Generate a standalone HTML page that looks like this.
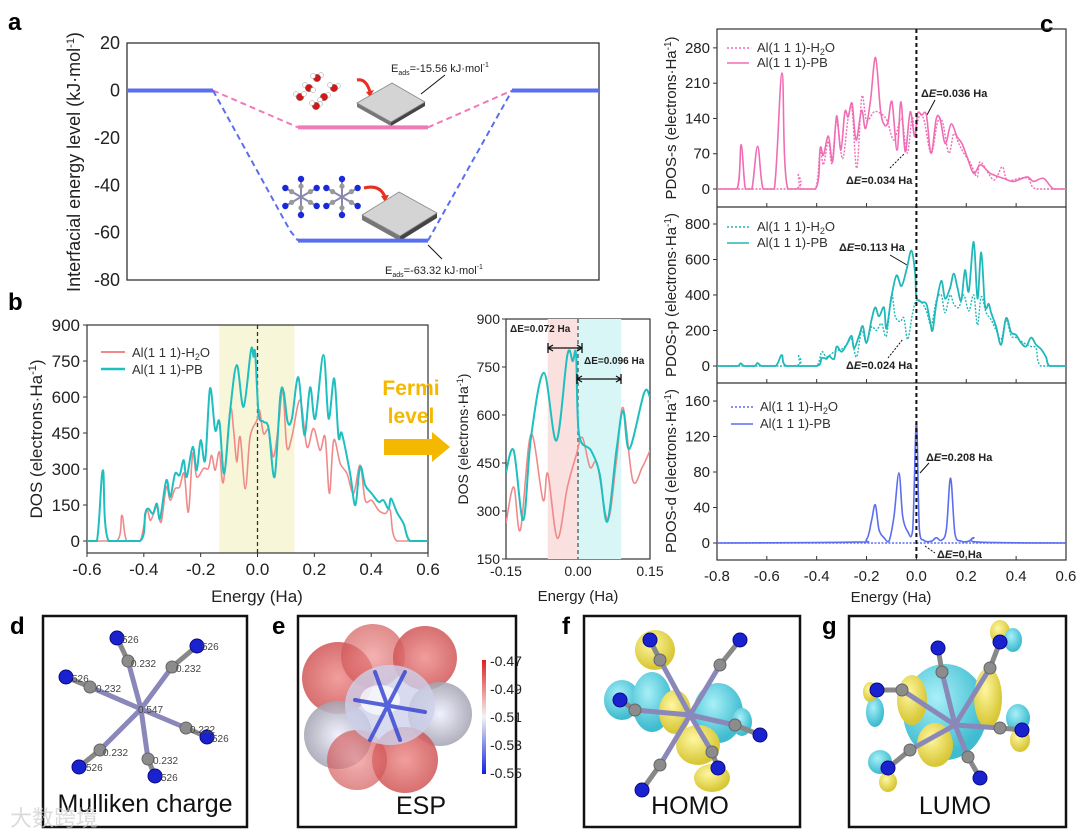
<!DOCTYPE html>
<html><head><meta charset="utf-8"><title>Figure</title>
<style>
html,body{margin:0;padding:0;background:#fff;}
svg{display:block;font-family:"Liberation Sans",Arial,sans-serif;}
</style></head>
<body>
<svg id="fig" width="1080" height="832" viewBox="0 0 1080 832" xmlns="http://www.w3.org/2000/svg">
<defs>
  <clipPath id="clipInset"><rect x="506" y="319" width="144" height="240"/></clipPath>
  <linearGradient id="espBar" x1="0" y1="0" x2="0" y2="1">
    <stop offset="0" stop-color="#e02020"/><stop offset="0.5" stop-color="#f4f4f4"/><stop offset="1" stop-color="#1020e0"/>
  </linearGradient>
  <radialGradient id="redLobe" cx="0.5" cy="0.5" r="0.5">
    <stop offset="0" stop-color="#e88" stop-opacity="0.9"/><stop offset="1" stop-color="#c44" stop-opacity="0.85"/>
  </radialGradient>
  <radialGradient id="blueLobe" cx="0.5" cy="0.5" r="0.5">
    <stop offset="0" stop-color="#eef" stop-opacity="0.9"/><stop offset="1" stop-color="#99a" stop-opacity="0.85"/>
  </radialGradient>
  <radialGradient id="yel" cx="0.4" cy="0.35" r="0.6">
    <stop offset="0" stop-color="#fff7a0"/><stop offset="1" stop-color="#d8c838"/>
  </radialGradient>
  <radialGradient id="cya" cx="0.4" cy="0.35" r="0.6">
    <stop offset="0" stop-color="#a8f0f8"/><stop offset="1" stop-color="#40bcd0"/>
  </radialGradient>
</defs>

<text x="8" y="30" font-size="24" font-weight="bold">a</text>
<text x="8" y="310" font-size="24" font-weight="bold">b</text>
<text x="1040" y="32" font-size="24" font-weight="bold">c</text>
<text x="10" y="634" font-size="24" font-weight="bold">d</text>
<text x="272" y="634" font-size="24" font-weight="bold">e</text>
<text x="562" y="634" font-size="24" font-weight="bold">f</text>
<text x="822" y="634" font-size="24" font-weight="bold">g</text>

<g id="panelA">
  <rect x="127" y="43" width="472" height="237" fill="none" stroke="#333" stroke-width="1.3"/>
  <text transform="translate(80,162) rotate(-90)" text-anchor="middle" font-size="18" fill="#222">Interfacial energy level (kJ·mol<tspan dy="-6" font-size="11">-1</tspan><tspan dy="6">)</tspan></text>
  <g stroke="#999" stroke-width="0.5">
    <circle cx="321" cy="75" r="2.5" fill="#fff"/><circle cx="317" cy="78" r="3.8" fill="#d01818"/><circle cx="313" cy="76" r="2.5" fill="#fff"/>
    <circle cx="305" cy="85" r="2.5" fill="#fff"/><circle cx="309" cy="88" r="3.8" fill="#d01818"/><circle cx="313" cy="90" r="2.5" fill="#fff"/>
    <circle cx="338" cy="86" r="2.5" fill="#fff"/><circle cx="334" cy="88" r="3.8" fill="#d01818"/><circle cx="330" cy="85" r="2.5" fill="#fff"/>
    <circle cx="296" cy="94" r="2.5" fill="#fff"/><circle cx="300" cy="97" r="3.8" fill="#d01818"/><circle cx="304" cy="94" r="2.5" fill="#fff"/>
    <circle cx="328" cy="95" r="2.5" fill="#fff"/><circle cx="324" cy="97" r="3.8" fill="#d01818"/><circle cx="320" cy="100" r="2.5" fill="#fff"/>
    <circle cx="320" cy="104" r="2.5" fill="#fff"/><circle cx="316" cy="106" r="3.8" fill="#d01818"/><circle cx="312" cy="103" r="2.5" fill="#fff"/>
  </g>
  <path d="M357 80 Q366 78 370 92" fill="none" stroke="#e83020" stroke-width="3"/>
  <polygon points="366,92 374,90 370,97" fill="#e83020"/>
  <g>
    <polygon points="357,103 391,122 391,126 357,107" fill="#777"/>
    <polygon points="391,122 425,102 425,106 391,126" fill="#444"/>
    <polygon points="357,103 392,83 425,102 391,122" fill="#d4d4d4" stroke="#888" stroke-width="0.8"/>
  </g>
  <line x1="421" y1="94" x2="445" y2="75" stroke="#111" stroke-width="1"/>
  <text x="391" y="72" font-size="11" fill="#222">E<tspan font-size="7" dy="3">ads</tspan><tspan dy="-3">=-15.56 kJ·mol</tspan><tspan font-size="7" dy="-5">-1</tspan></text>
  <g id="pbMolsA"></g>
  <path d="M364 188 Q380 184 385 197" fill="none" stroke="#e83020" stroke-width="3"/>
  <polygon points="381,196 389,195 385,202" fill="#e83020"/>
  <g>
    <polygon points="362,215 400,236 400,241 362,220" fill="#777"/>
    <polygon points="400,236 437,213 437,218 400,241" fill="#444"/>
    <polygon points="362,215 399,192 437,213 400,236" fill="#d4d4d4" stroke="#888" stroke-width="0.8"/>
  </g>
  <line x1="428" y1="245" x2="442" y2="259" stroke="#111" stroke-width="1"/>
  <text x="385" y="274" font-size="11" fill="#222">E<tspan font-size="7" dy="3">ads</tspan><tspan dy="-3">=-63.32 kJ·mol</tspan><tspan font-size="7" dy="-5">-1</tspan></text>
</g>

<g id="panelB">
  <rect x="87" y="325" width="341" height="228" fill="none" stroke="#333" stroke-width="1.2"/>
  <text transform="translate(42,439) rotate(-90)" text-anchor="middle" font-size="17" fill="#222">DOS (electrons·Ha<tspan dy="-6" font-size="11">-1</tspan><tspan dy="6">)</tspan></text>
  <text x="257" y="602" text-anchor="middle" font-size="17" fill="#222">Energy (Ha)</text>
  <line x1="101" y1="352" x2="125" y2="352" stroke="#f08a8a" stroke-width="2"/>
  <text x="132" y="357" font-size="13" fill="#333">Al(1 1 1)-H<tspan font-size="9" dy="3">2</tspan><tspan dy="-3">O</tspan></text>
  <line x1="101" y1="369" x2="125" y2="369" stroke="#1fbfbf" stroke-width="2.5"/>
  <text x="132" y="374" font-size="13" fill="#333">Al(1 1 1)-PB</text>
  <rect x="506" y="319" width="144" height="240" fill="none" stroke="#333" stroke-width="1.2"/>
  <text transform="translate(468,439) rotate(-90)" text-anchor="middle" font-size="14" fill="#222">DOS (electrons·Ha<tspan dy="-5" font-size="9">-1</tspan><tspan dy="5">)</tspan></text>
  <text x="578" y="601" text-anchor="middle" font-size="15" fill="#222">Energy (Ha)</text>
  <text x="411" y="395" text-anchor="middle" font-size="21" font-weight="bold" fill="#f5b800">Fermi</text>
  <text x="411" y="423" text-anchor="middle" font-size="21" font-weight="bold" fill="#f5b800">level</text>
  <polygon points="384,439 432,439 432,432 450,447 432,462 432,455 384,455" fill="#f5b800"/>
</g>

<g id="panelC">
  <rect x="717" y="29" width="349" height="531" fill="none" stroke="#333" stroke-width="1.2"/>
  <line x1="717" y1="207" x2="1066" y2="207" stroke="#333" stroke-width="1.2"/>
  <line x1="717" y1="383" x2="1066" y2="383" stroke="#333" stroke-width="1.2"/>
  <text transform="translate(676,118) rotate(-90)" text-anchor="middle" font-size="15" fill="#222">PDOS-s (electrons·Ha<tspan dy="-5" font-size="10">-1</tspan><tspan dy="5">)</tspan></text>
  <text transform="translate(676,295) rotate(-90)" text-anchor="middle" font-size="15" fill="#222">PDOS-p (electrons·Ha<tspan dy="-5" font-size="10">-1</tspan><tspan dy="5">)</tspan></text>
  <text transform="translate(676,471) rotate(-90)" text-anchor="middle" font-size="15" fill="#222">PDOS-d (electrons·Ha<tspan dy="-5" font-size="10">-1</tspan><tspan dy="5">)</tspan></text>
  <text x="891" y="602" text-anchor="middle" font-size="15" fill="#222">Energy (Ha)</text>
  <g font-size="13" fill="#333">
    <line x1="727" y1="48" x2="749" y2="48" stroke="#f06cb4" stroke-width="1.6" stroke-dasharray="2,2"/>
    <text x="757" y="52">Al(1 1 1)-H<tspan font-size="9" dy="3">2</tspan><tspan dy="-3">O</tspan></text>
    <line x1="727" y1="63" x2="749" y2="63" stroke="#f06cb4" stroke-width="1.6"/>
    <text x="757" y="67">Al(1 1 1)-PB</text>
    <line x1="727" y1="227" x2="749" y2="227" stroke="#20b8b8" stroke-width="1.6" stroke-dasharray="2,2"/>
    <text x="757" y="231">Al(1 1 1)-H<tspan font-size="9" dy="3">2</tspan><tspan dy="-3">O</tspan></text>
    <line x1="727" y1="243" x2="749" y2="243" stroke="#20b8b8" stroke-width="1.6"/>
    <text x="757" y="247">Al(1 1 1)-PB</text>
    <line x1="731" y1="407" x2="753" y2="407" stroke="#5b6ef0" stroke-width="1.6" stroke-dasharray="2,2"/>
    <text x="760" y="411">Al(1 1 1)-H<tspan font-size="9" dy="3">2</tspan><tspan dy="-3">O</tspan></text>
    <line x1="731" y1="424" x2="753" y2="424" stroke="#5b6ef0" stroke-width="1.6"/>
    <text x="760" y="428">Al(1 1 1)-PB</text>
  </g>
  <g font-size="11" font-weight="bold" fill="#222">
    <text x="921" y="97">Δ<tspan font-style="italic">E</tspan>=0.036 Ha</text>
    <line x1="927" y1="115" x2="935" y2="100" stroke="#111"/>
    <text x="846" y="184">Δ<tspan font-style="italic">E</tspan>=0.034 Ha</text>
    <line x1="890" y1="168" x2="904" y2="154" stroke="#111" stroke-dasharray="2,1.5"/>
    <text x="839" y="251">Δ<tspan font-style="italic">E</tspan>=0.113 Ha</text>
    <line x1="890" y1="255" x2="907" y2="265" stroke="#111"/>
    <text x="846" y="369">Δ<tspan font-style="italic">E</tspan>=0.024 Ha</text>
    <line x1="888" y1="358" x2="903" y2="339" stroke="#111" stroke-dasharray="2,1.5"/>
    <text x="926" y="461">Δ<tspan font-style="italic">E</tspan>=0.208 Ha</text>
    <line x1="929" y1="463" x2="920" y2="473" stroke="#111"/>
    <text x="937" y="558">Δ<tspan font-style="italic">E</tspan>=0 Ha</text>
    <line x1="925" y1="546" x2="935" y2="553" stroke="#111" stroke-dasharray="2,1.5"/>
  </g>
</g>

<g id="panelD">
  <rect x="43" y="616" width="204" height="211" fill="#fff" stroke="#111" stroke-width="2.5"/>
  <g id="molD"></g>
  <text x="145" y="812" text-anchor="middle" font-size="25" fill="#111">Mulliken charge</text>
  <text x="10" y="826" font-size="22" fill="#ccc" opacity="0.7" font-family="'Liberation Sans','Noto Sans CJK SC',sans-serif">大数跨境</text>
</g>
<g id="panelE">
  <rect x="298" y="616" width="218" height="211" fill="#fff" stroke="#111" stroke-width="2.5"/>
  <g opacity="0.9">
    <circle cx="338" cy="678" r="36" fill="url(#redLobe)"/>
    <circle cx="373" cy="656" r="32" fill="url(#redLobe)" opacity="0.8"/>
    <circle cx="425" cy="658" r="32" fill="url(#redLobe)"/>
    <circle cx="338" cy="735" r="34" fill="url(#blueLobe)"/>
    <circle cx="440" cy="714" r="32" fill="url(#blueLobe)"/>
    <circle cx="405" cy="760" r="33" fill="url(#redLobe)"/>
    <circle cx="357" cy="760" r="30" fill="url(#redLobe)" opacity="0.8"/>
    <ellipse cx="390" cy="705" rx="45" ry="40" fill="#c8cce8" opacity="0.8"/>
    <ellipse cx="380" cy="700" rx="20" ry="15" fill="#fff" opacity="0.7"/>
  </g>
  <g stroke="#3040d0" stroke-width="4" stroke-linecap="round" opacity="0.8">
    <line x1="375" y1="672" x2="400" y2="740"/><line x1="355" y1="700" x2="425" y2="712"/><line x1="405" y1="672" x2="370" y2="740"/>
  </g>
  <rect x="482" y="660" width="4" height="114" fill="url(#espBar)"/>
  <g font-size="14" fill="#222">
    <text x="490" y="666">-0.47</text>
    <text x="490" y="694">-0.49</text>
    <text x="490" y="722">-0.51</text>
    <text x="490" y="750">-0.53</text>
    <text x="490" y="778">-0.55</text>
  </g>
  <text x="421" y="814" text-anchor="middle" font-size="25" fill="#111">ESP</text>
</g>
<g id="panelF">
  <rect x="584" y="616" width="216" height="211" fill="#fff" stroke="#111" stroke-width="2.5"/>
  <ellipse cx="655" cy="650" rx="20" ry="20" fill="url(#yel)"/>
  <ellipse cx="622" cy="700" rx="18" ry="20" fill="url(#cya)"/>
  <ellipse cx="652" cy="702" rx="20" ry="30" fill="url(#cya)"/>
  <ellipse cx="675" cy="712" rx="16" ry="22" fill="url(#yel)"/>
  <ellipse cx="718" cy="713" rx="25" ry="30" fill="url(#cya)"/>
  <ellipse cx="698" cy="745" rx="22" ry="20" fill="url(#yel)"/>
  <ellipse cx="712" cy="778" rx="18" ry="14" fill="url(#yel)"/>
  <ellipse cx="742" cy="722" rx="10" ry="14" fill="url(#cya)"/>
  <g id="molF"></g>
  <text x="690" y="814" text-anchor="middle" font-size="25" fill="#111">HOMO</text>
</g>
<g id="panelG">
  <rect x="849" y="616" width="217" height="211" fill="#fff" stroke="#111" stroke-width="2.5"/>
  <ellipse cx="945" cy="712" rx="42" ry="48" fill="url(#cya)"/>
  <ellipse cx="912" cy="700" rx="15" ry="25" fill="url(#yel)"/>
  <ellipse cx="988" cy="698" rx="14" ry="30" fill="url(#yel)"/>
  <ellipse cx="935" cy="745" rx="18" ry="22" fill="url(#yel)"/>
  <ellipse cx="1000" cy="632" rx="10" ry="12" fill="url(#yel)"/>
  <ellipse cx="1013" cy="640" rx="9" ry="12" fill="url(#cya)"/>
  <ellipse cx="875" cy="712" rx="9" ry="15" fill="url(#cya)"/>
  <ellipse cx="870" cy="692" rx="7" ry="10" fill="url(#yel)"/>
  <ellipse cx="1018" cy="718" rx="12" ry="14" fill="url(#cya)"/>
  <ellipse cx="1020" cy="740" rx="10" ry="12" fill="url(#yel)"/>
  <ellipse cx="880" cy="762" rx="12" ry="12" fill="url(#cya)"/>
  <ellipse cx="888" cy="782" rx="9" ry="10" fill="url(#yel)"/>
  <g id="molG"></g>
  <text x="955" y="814" text-anchor="middle" font-size="25" fill="#111">LUMO</text>
</g>
</svg>

<script>
// ---------- DATA ----------
const aLevels = [0, -15.56, -63.32];
const aTicks = [20, 0, -20, -40, -60, -80];

const bEnergyPB = [-0.6,-0.565,-0.544,-0.524,-0.413,-0.395,-0.384,-0.368,-0.354,-0.343,
-0.321,-0.307,-0.29,-0.274,-0.26,-0.249,-0.228,-0.214,-0.2,-0.184,
-0.167,-0.149,-0.134,-0.117,-0.096,-0.073,-0.049,-0.023,-0.014,-0.008,
0.004,0.021,0.039,0.06,0.08,0.092,0.106,0.121,0.144,0.165,
0.185,0.203,0.232,0.25,0.27,0.285,0.297,0.326,0.344,0.361,
0.379,0.402,0.426,0.443,0.461,0.47,0.49,0.514,0.537,0.6];
const bDosPB = [0,0,295,0,0,114,135,114,156,93,
253,184,281,274,337,267,392,295,420,337,
636,462,497,281,545,733,559,796,768,782,
531,497,469,267,601,622,497,510,682,441,
640,510,775,510,677,434,448,281,149,309,
232,198,163,170,135,177,121,72,0,0];
const bEnergyH2O = [-0.6,-0.495,-0.477,-0.46,-0.413,-0.39,-0.376,-0.354,-0.339,-0.321,
-0.307,-0.29,-0.274,-0.258,-0.243,-0.228,-0.214,-0.19,-0.173,-0.161,
-0.149,-0.134,-0.12,-0.096,-0.084,-0.073,-0.061,-0.043,-0.026,-0.002,
0.007,0.021,0.039,0.056,0.074,0.089,0.103,0.121,0.15,0.174,
0.197,0.22,0.238,0.253,0.268,0.291,0.315,0.338,0.361,0.379,
0.402,0.426,0.45,0.467,0.49,0.6];
const bDosH2O = [0,0,107,0,0,128,86,142,79,225,
170,218,225,281,121,364,267,302,302,357,
295,371,246,545,462,330,434,218,434,503,
545,448,462,351,483,629,392,434,587,392,
469,378,434,198,420,323,281,198,316,170,
170,128,114,128,0,0];
const bXTicks = [-0.6,-0.4,-0.2,0.0,0.2,0.4,0.6];
const bYTicks = [0,150,300,450,600,750,900];

const iEnergyPB = [-0.15,-0.134,-0.114,-0.098,-0.071,-0.045,-0.022,-0.011,-0.004,0.002,0.027,0.045,0.061,0.08,0.094,0.107,0.138,0.15];
const iDosPB = [421,489,272,530,732,520,788,768,788,540,489,417,267,489,613,494,670,655];
const iEnergyH2O = [-0.15,-0.134,-0.12,-0.098,-0.073,-0.063,-0.043,-0.022,-0.004,0.009,0.025,0.04,0.062,0.08,0.094,0.114,0.134,0.15];
const iDosH2O = [262,375,241,540,334,417,215,375,473,530,437,447,272,458,623,396,437,489];
const iXTicks = [-0.15,0.00,0.15];
const iXTickLabels = ["-0.15","0.00","0.15"];
const iYTicks = [150,300,450,600,750,900];
const iShadeLeft = [-0.063, 0];
const iShadeRight = [0, 0.09];

const sEnergyPB = [-0.8,-0.72,-0.703,-0.686,-0.66,-0.637,-0.615,-0.57,-0.539,-0.516,
-0.405,-0.386,-0.373,-0.353,-0.336,-0.32,-0.303,-0.287,-0.274,-0.258,
-0.242,-0.22,-0.204,-0.184,-0.164,-0.144,-0.128,-0.114,-0.098,-0.078,
-0.062,-0.045,-0.025,-0.007,0.005,0.022,0.04,0.059,0.08,0.096,
0.116,0.139,0.163,0.183,0.203,0.23,0.257,0.297,0.35,0.39,
0.444,0.47,0.51,0.55,0.6];
const sPdosPB = [0,0,88,0,0,85,0,0,230,0,
0,81,67,105,54,145,77,153,143,170,
97,156,120,176,261,156,127,133,173,77,
173,74,153,104,150,147,147,71,140,137,
90,129,104,90,64,31,48,31,21,15,
24,15,21,0,0];
const sEnergyH2O = [-0.8,-0.49,-0.476,-0.462,-0.405,-0.386,-0.373,-0.353,-0.339,-0.32,
-0.296,-0.274,-0.258,-0.239,-0.219,-0.2,-0.17,-0.144,-0.118,-0.09,
-0.06,-0.037,-0.017,-0.007,0.01,0.03,0.059,0.085,0.105,0.13,
0.15,0.17,0.19,0.217,0.244,0.257,0.31,0.344,0.365,0.42,
0.45,0.48,0.6];
const sPdosH2O = [0,0,31,0,0,75,48,95,51,133,
60,140,156,41,183,136,153,150,136,97,
140,71,143,104,143,138,71,133,133,71,
110,90,71,51,24,54,18,44,18,22,
20,0,0];
const sYTicks = [0,70,140,210,280];

const pEnergyPB = [-0.8,-0.72,-0.705,-0.69,-0.65,-0.637,-0.62,-0.565,-0.54,-0.52,
-0.4,-0.38,-0.36,-0.35,-0.33,-0.32,-0.3,-0.28,-0.26,-0.25,
-0.23,-0.215,-0.2,-0.18,-0.165,-0.15,-0.13,-0.12,-0.1,-0.08,
-0.06,-0.04,-0.02,-0.005,0.0,0.02,0.04,0.055,0.065,0.08,
0.1,0.115,0.135,0.15,0.165,0.18,0.195,0.21,0.23,0.245,
0.26,0.275,0.29,0.3,0.32,0.34,0.36,0.38,0.4,0.42,
0.44,0.46,0.48,0.5,0.52,0.535,0.6];
const pPdosPB = [0,0,15,0,0,17,0,0,62,0,
0,45,40,55,40,110,80,120,170,100,
170,225,130,260,330,280,330,210,390,510,
450,540,650,520,390,360,350,250,200,350,
480,380,440,520,440,370,540,420,700,380,
640,340,350,300,220,120,270,190,175,130,
110,160,120,95,50,0,0];
const pEnergyH2O = [-0.8,-0.49,-0.475,-0.46,-0.4,-0.38,-0.36,-0.33,-0.3,-0.28,
-0.26,-0.24,-0.22,-0.2,-0.18,-0.16,-0.14,-0.12,-0.1,-0.085,
-0.065,-0.05,-0.035,-0.015,0.0,0.02,0.04,0.06,0.08,0.1,
0.115,0.135,0.15,0.17,0.19,0.21,0.23,0.245,0.26,0.28,
0.3,0.32,0.34,0.36,0.38,0.4,0.43,0.46,0.48,0.5,0.6];
const pPdosH2O = [0,0,65,0,0,80,50,80,95,120,
150,50,200,130,220,200,240,170,400,280,
250,270,150,300,370,360,310,230,370,400,
300,400,350,330,400,310,400,230,390,300,
260,200,150,260,170,160,130,110,100,0,0];
const pYTicks = [0,200,400,600,800];

const dEnergyPB = [-0.8,-0.25,-0.2,-0.18,-0.165,-0.15,-0.13,-0.11,-0.09,-0.07,
-0.055,-0.035,-0.015,0.0,0.012,0.03,0.06,0.08,0.1,0.12,
0.137,0.155,0.18,0.21,0.23,0.25,0.6];
const dPdosPB = [0,1,4,25,43,15,6,2,30,79,
30,13,15,136,15,3,2,6,3,15,
73,10,2,2,6,1,0];
const dEnergyH2O = [-0.8,0.6];
const dPdosH2O = [0,0];
const dYTicks = [0,40,80,120,160];
const cXTicks = [-0.8,-0.6,-0.4,-0.2,0.0,0.2,0.4,0.6];

// ---------- HELPERS ----------
const NS = "http://www.w3.org/2000/svg";
function mk(tag, parent, attrs){
  const e = document.createElementNS(NS, tag);
  for (const k in attrs) e.setAttribute(k, attrs[k]);
  parent.appendChild(e);
  return e;
}
function smoothPath(xs, ys, sx, sy){
  const base = sy(0);
  const P = xs.map((x,i)=>[sx(x), sy(ys[i])]);
  let d = "M" + P[0][0].toFixed(1) + " " + P[0][1].toFixed(1);
  for (let i=0;i<P.length-1;i++){
    const p0=P[Math.max(0,i-1)], p1=P[i], p2=P[i+1], p3=P[Math.min(P.length-1,i+2)];
    const c1x=p1[0]+(p2[0]-p0[0])/6;
    let c1y=p1[1]+(p2[1]-p0[1])/6;
    const c2x=p2[0]-(p3[0]-p1[0])/6;
    let c2y=p2[1]-(p3[1]-p1[1])/6;
    c1y = Math.min(c1y, base); c2y = Math.min(c2y, base);
    if (p1[1] >= base - 0.01 && p2[1] >= base - 0.01) { c1y = base; c2y = base; }
    d += " C"+c1x.toFixed(1)+" "+c1y.toFixed(1)+" "+c2x.toFixed(1)+" "+c2y.toFixed(1)+" "+p2[0].toFixed(1)+" "+p2[1].toFixed(1);
  }
  return d;
}
function fmt(v, dec){ return v.toFixed(dec); }

// ---------- PANEL A ----------
const gA = document.getElementById("panelA");
const ya = v => 90.5 - v*2.37;
aTicks.forEach(t=>{
  const tx = mk("text", gA, {x:120, y:ya(t)+6, "text-anchor":"end", "font-size":18, fill:"#222"});
  
  
  tx.textContent = t;
});
const lvl0 = ya(aLevels[0]), lvlW = ya(aLevels[1]), lvlP = ya(aLevels[2]);
const baseL = mk("line", gA, {x1:127, y1:lvl0, x2:213, y2:lvl0, stroke:"#5a6ef0", "stroke-width":4});


const baseR = mk("line", gA, {x1:512, y1:lvl0, x2:599, y2:lvl0, stroke:"#5a6ef0", "stroke-width":4});


const wDash = mk("path", gA, {d:`M213 ${lvl0} L298 ${lvlW} M428 ${lvlW} L512 ${lvl0}`, stroke:"#f07ab8", "stroke-width":2, "stroke-dasharray":"6,4", fill:"none"});


const wLvl = mk("line", gA, {x1:298, y1:lvlW, x2:428, y2:lvlW, stroke:"#f07ab8", "stroke-width":4});


const pDash = mk("path", gA, {d:`M213 ${lvl0} L290 ${lvlP-10} L298 ${lvlP} M428 ${lvlP} L512 ${lvl0}`, stroke:"#5a6ef0", "stroke-width":2, "stroke-dasharray":"6,4", fill:"none"});


const pLvl = mk("line", gA, {x1:298, y1:lvlP, x2:428, y2:lvlP, stroke:"#5a6ef0", "stroke-width":4});



function drawPB(parent, cx, cy, s){
  const arms = [[0,-1],[0.87,-0.5],[0.87,0.5],[0,1],[-0.87,0.5],[-0.87,-0.5]];
  arms.forEach(a=>{
    mk("line", parent, {x1:cx, y1:cy, x2:cx+a[0]*s, y2:cy+a[1]*s, stroke:"#8a88b0", "stroke-width":2});
    mk("circle", parent, {cx:cx+a[0]*s*0.6, cy:cy+a[1]*s*0.6, r:2.6, fill:"#999"});
    mk("circle", parent, {cx:cx+a[0]*s, cy:cy+a[1]*s, r:3.2, fill:"#1a2ad8"});
  });
}
const molsA = document.getElementById("pbMolsA");
drawPB(molsA, 301, 197, 18);
drawPB(molsA, 342, 197, 18);

// ---------- PANEL B ----------
const gB = document.getElementById("panelB");
const xb = v => 257.5 + v*284.2;
const yb = v => 541 - v*0.24;
const shadeB = mk("rect", gB, {x:xb(-0.135), y:325, width:xb(0.13)-xb(-0.135), height:228, fill:"#f8f6d8"});


gB.insertBefore(shadeB, gB.firstChild);
bYTicks.forEach(t=>{
  const tk = mk("line", gB, {x1:83, y1:yb(t), x2:87, y2:yb(t), stroke:"#333"});
  
  
  const tx = mk("text", gB, {x:80, y:yb(t)+6, "text-anchor":"end", "font-size":17, fill:"#222"});
  
  
  tx.textContent = t;
});
bXTicks.forEach(t=>{
  const tk = mk("line", gB, {x1:xb(t), y1:553, x2:xb(t), y2:557, stroke:"#333"});
  
  
  const tx = mk("text", gB, {x:xb(t), y:575, "text-anchor":"middle", "font-size":17, fill:"#222"});
  
  
  tx.textContent = fmt(t,1);
});
const fermiB = mk("line", gB, {x1:xb(0), y1:325, x2:xb(0), y2:553, stroke:"#333", "stroke-width":1.3, "stroke-dasharray":"4,3"});


const bH2O = mk("path", gB, {d:smoothPath(bEnergyH2O, bDosH2O, xb, yb), fill:"none", stroke:"#f08a8a", "stroke-width":1.6});


const bPB = mk("path", gB, {d:smoothPath(bEnergyPB, bDosPB, xb, yb), fill:"none", stroke:"#1fbfbf", "stroke-width":2});



// inset
const xi = v => 578 + v*480;
const yi = v => 559 - (v-150)*0.32;
const shL = mk("rect", gB, {x:xi(iShadeLeft[0]), y:319, width:xi(iShadeLeft[1])-xi(iShadeLeft[0]), height:240, fill:"#fbe0e0"});


const shR = mk("rect", gB, {x:xi(iShadeRight[0]), y:319, width:xi(iShadeRight[1])-xi(iShadeRight[0]), height:240, fill:"#d8f6f6"});


iYTicks.forEach(t=>{
  const tk = mk("line", gB, {x1:502, y1:yi(t), x2:506, y2:yi(t), stroke:"#333"});
  
  
  const tx = mk("text", gB, {x:500, y:yi(t)+5, "text-anchor":"end", "font-size":14, fill:"#222"});
  
  
  tx.textContent = t;
});
iXTicks.forEach((t,i)=>{
  const tx = mk("text", gB, {x:xi(t), y:576, "text-anchor":"middle", "font-size":14, fill:"#222"});
  
  
  tx.textContent = iXTickLabels[i];
});
const fermiI = mk("line", gB, {x1:xi(0), y1:319, x2:xi(0), y2:559, stroke:"#555", "stroke-width":1.3, "stroke-dasharray":"4,3"});


const iGrp = mk("g", gB, {"clip-path":"url(#clipInset)"});


const iH = mk("path", iGrp, {d:smoothPath(iEnergyH2O, iDosH2O, xi, yi), fill:"none", stroke:"#f08a8a", "stroke-width":1.6});


const iP = mk("path", iGrp, {d:smoothPath(iEnergyPB, iDosPB, xi, yi), fill:"none", stroke:"#1fbfbf", "stroke-width":2});


const a1 = mk("path", gB, {d:"M548 348 L582 348 M548 343 L548 353 M582 343 L582 353 M548 348 l5 -3 M548 348 l5 3 M582 348 l-5 -3 M582 348 l-5 3", stroke:"#111", "stroke-width":1.3, fill:"none"});


const a2 = mk("path", gB, {d:"M577 379 L621 379 M577 374 L577 384 M621 374 L621 384 M577 379 l5 -3 M577 379 l5 3 M621 379 l-5 -3 M621 379 l-5 3", stroke:"#111", "stroke-width":1.3, fill:"none"});


const t1 = mk("text", gB, {x:510, y:332, "font-size":10, "font-weight":"bold", fill:"#222"});


t1.textContent = "ΔE=0.072 Ha";
const t2 = mk("text", gB, {x:584, y:364, "font-size":10, "font-weight":"bold", fill:"#222"});


t2.textContent = "ΔE=0.096 Ha";

// ---------- PANEL C ----------
const gC = document.getElementById("panelC");
const xc = v => 916.4 + v*249.3;
const ysS = v => 189 - v*0.504;
const ysP = v => 366 - v*0.1775;
const ysD = v => 543 - v*0.8875;
function cTicks(ticks, sy, name){
  ticks.forEach(t=>{
    const tk = mk("line", gC, {x1:713, y1:sy(t), x2:717, y2:sy(t), stroke:"#333"});
    
    
    const tx = mk("text", gC, {x:710, y:sy(t)+5, "text-anchor":"end", "font-size":15, fill:"#222"});
    
    
    tx.textContent = t;
  });
}
cTicks(sYTicks, ysS, 'pdos-s');
cTicks(pYTicks, ysP, 'pdos-p');
cTicks(dYTicks, ysD, 'pdos-d');
cXTicks.forEach(t=>{
  [207,383,560].forEach(yy=>{
    const tk = mk("line", gC, {x1:xc(t), y1:yy, x2:xc(t), y2:yy-4, stroke:"#333"});
    
    
  });
  const tx = mk("text", gC, {x:xc(t), y:581, "text-anchor":"middle", "font-size":15, fill:"#222"});
  
  
  tx.textContent = fmt(t,1);
});
const sH = mk("path", gC, {d:smoothPath(sEnergyH2O, sPdosH2O, xc, ysS), fill:"none", stroke:"#f06cb4", "stroke-width":1.4, "stroke-dasharray":"2,1.5"});


const sP = mk("path", gC, {d:smoothPath(sEnergyPB, sPdosPB, xc, ysS), fill:"none", stroke:"#f06cb4", "stroke-width":1.6});


const pH = mk("path", gC, {d:smoothPath(pEnergyH2O, pPdosH2O, xc, ysP), fill:"none", stroke:"#20b8b8", "stroke-width":1.4, "stroke-dasharray":"2,1.5"});


const pP = mk("path", gC, {d:smoothPath(pEnergyPB, pPdosPB, xc, ysP), fill:"none", stroke:"#20b8b8", "stroke-width":1.8});


const dH = mk("path", gC, {d:smoothPath(dEnergyH2O, dPdosH2O, xc, ysD), fill:"none", stroke:"#5b6ef0", "stroke-width":1.4, "stroke-dasharray":"2,1.5"});


const dP = mk("path", gC, {d:smoothPath(dEnergyPB, dPdosPB, xc, ysD), fill:"none", stroke:"#5b6ef0", "stroke-width":1.6});


const fermiC = mk("line", gC, {x1:xc(0), y1:29, x2:xc(0), y2:560, stroke:"#111", "stroke-width":2, "stroke-dasharray":"4,3"});



// ---------- BOTTOM MOLECULES ----------
function molecule(parent, cx, cy, cPts, nPts){
  cPts.forEach(p=>{ mk("line", parent, {x1:cx, y1:cy, x2:p[0], y2:p[1], stroke:"#8a88b8", "stroke-width":5, "stroke-linecap":"round"}); });
  cPts.forEach((p,i)=>{ mk("line", parent, {x1:p[0], y1:p[1], x2:nPts[i][0], y2:nPts[i][1], stroke:"#888", "stroke-width":5, "stroke-linecap":"round"}); });
  cPts.forEach(p=>{ mk("circle", parent, {cx:p[0], cy:p[1], r:6, fill:"#8c8c8c", stroke:"#666"}); });
  nPts.forEach(p=>{ mk("circle", parent, {cx:p[0], cy:p[1], r:7, fill:"#1a22d0", stroke:"#0a0a80"}); });
}
const molD = document.getElementById("molD");
molecule(molD, 141, 709, [[128,661],[172,667],[90,687],[186,728],[100,750],[148,759]], [[117,638],[197,646],[66,677],[207,737],[79,767],[155,776]]);
const dLab = [[122,643,"526"],[202,650,"526"],[72,682,"526"],[212,742,"526"],[86,771,"526"],[161,781,"526"],
 [131,667,"0.232"],[176,672,"0.232"],[96,692,"0.232"],[190,733,"0.232"],[103,756,"0.232"],[153,764,"0.232"],[138,713,"0.547"]];
dLab.forEach(l=>{
  const tx = mk("text", molD, {x:l[0], y:l[1], "font-size":10, fill:"#444"});
  
  
  tx.textContent = l[2];
});
const molF = document.getElementById("molF");
molecule(molF, 690, 715, [[660,660],[720,665],[635,710],[735,725],[660,765],[712,752]], [[650,640],[740,640],[620,700],[760,735],[642,790],[718,768]]);
const molG = document.getElementById("molG");
molecule(molG, 955, 725, [[942,672],[990,668],[902,690],[1000,728],[910,750],[968,757]], [[938,648],[1000,642],[877,690],[1022,730],[888,768],[980,778]]);
</script>
</body></html>
